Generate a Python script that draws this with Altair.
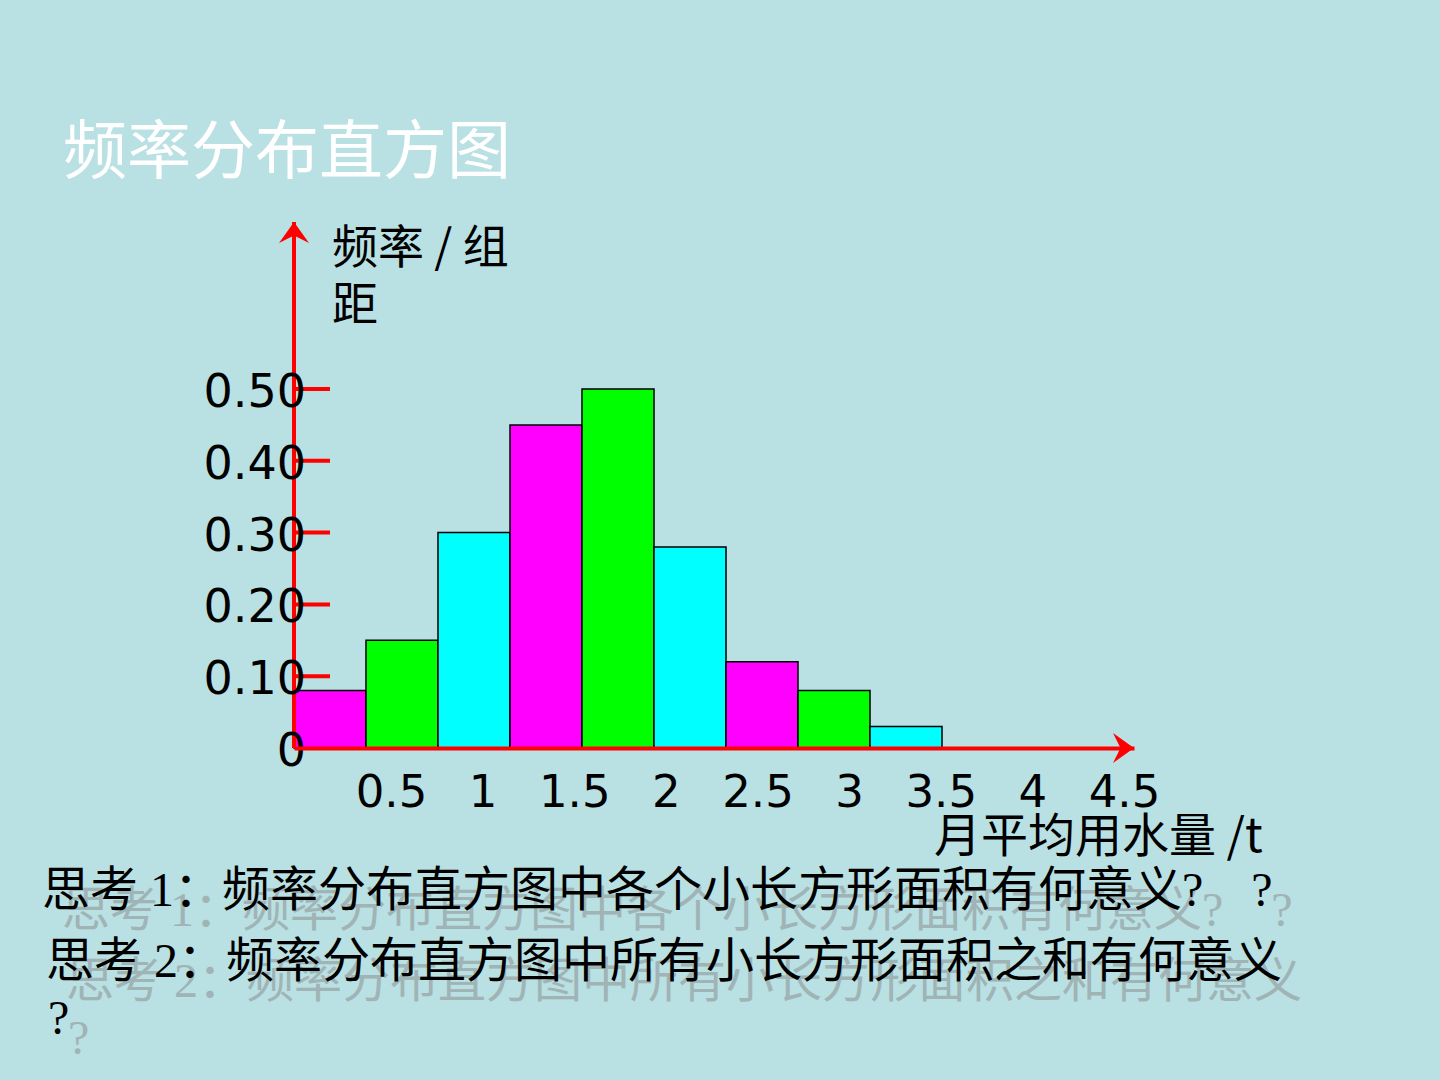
import altair as alt
import pandas as pd

# ---------------- data ----------------
TITLE = "频率分布直方图"
Y_TITLE_LINES = ["频率 / 组", "距"]
X_TITLE = "月平均用水量 /t"
QUESTIONS = [
    "思考 1：频率分布直方图中各个小长方形面积有何意义?\u3000?",
    "思考 2：频率分布直方图中所有小长方形面积之和有何意义",
    "?",
]

BIN_START = [0, 0.5, 1, 1.5, 2, 2.5, 3, 3.5, 4]
BIN_END = [0.5, 1, 1.5, 2, 2.5, 3, 3.5, 4, 4.5]
FREQ_DENSITY = [0.08, 0.15, 0.30, 0.45, 0.50, 0.28, 0.12, 0.08, 0.03]
COLOR_GROUP = ["a", "b", "c", "a", "b", "c", "a", "b", "c"]

X_TICKS = [0.5, 1, 1.5, 2, 2.5, 3, 3.5, 4, 4.5]
Y_TICKS = [0, 0.1, 0.2, 0.3, 0.4, 0.5]
Y_TICK_LABELS = ["0", "0.10", "0.20", "0.30", "0.40", "0.50"]

# ---------------- layout / style ----------------
W, H = 840, 526
X_MAX = 5.8333
Y_MAX = 0.7326
LABEL_DOMAIN = [-0.0293, 4.5546]  # spacing of the printed tick labels
BG = "#b9e0e3"
RED = "#ff0000"
CJK = "Noto Sans CJK SC"
SERIF_CJK = "Liberation Serif, Noto Sans CJK SC"
NUM = "DejaVu Sans"

bars_df = pd.DataFrame({"start": BIN_START, "end": BIN_END,
                        "v": FREQ_DENSITY, "g": COLOR_GROUP})
xs = alt.Scale(domain=[0, X_MAX], nice=False, zero=False)
ys = alt.Scale(domain=[0, Y_MAX], nice=False)

bars = alt.Chart(bars_df).mark_rect(stroke="black", strokeWidth=1.5).encode(
    x=alt.X("start:Q", scale=xs, axis=None),
    x2="end:Q",
    y=alt.Y("v:Q", scale=ys, axis=None),
    y2=alt.datum(0),
    color=alt.Color("g:N", legend=None,
                    scale=alt.Scale(domain=["a", "b", "c"],
                                    range=["#ff00ff", "#00ff00", "#00ffff"])),
)

# vertical red axis line
yline_df = pd.DataFrame({"k": [0]})
yline = alt.Chart(yline_df).mark_rule(color=RED, strokeWidth=4).encode(
    x=alt.value(0), y=alt.value(0), y2=alt.value(H),
)

ticks_df = pd.DataFrame({"t": Y_TICKS[1:]})
yticks = alt.Chart(ticks_df).mark_rule(color=RED, strokeWidth=4).encode(
    y=alt.Y("t:Q", scale=ys, axis=None),
    x=alt.value(0), x2=alt.value(36),
)

ylab_df = pd.DataFrame({"t": Y_TICKS, "lab": Y_TICK_LABELS})
ylabels = alt.Chart(ylab_df).mark_text(
    align="right", baseline="middle", font=NUM, fontSize=46,
    color="black", dy=4).encode(
    y=alt.Y("t:Q", scale=ys, axis=None),
    x=alt.value(12),
    text="lab:N",
)

up_df = pd.DataFrame({"x": [0], "y": [Y_MAX]})
up_arrow = alt.Chart(up_df).mark_point(
    shape="M0,0 L1,1.4 L0,0.9 L-1,1.4 Z", size=900, filled=True,
    color=RED, opacity=1).encode(
    x=alt.X("x:Q", scale=xs, axis=None),
    y=alt.Y("y:Q", scale=ys, axis=None),
)
right_df = pd.DataFrame({"x": [X_MAX], "y": [0]})
right_arrow = alt.Chart(right_df).mark_point(
    shape="M0,0 L-1.4,-1 L-0.9,0 L-1.4,1 Z", size=900, filled=True,
    color=RED, opacity=1).encode(
    x=alt.X("x:Q", scale=xs, axis=None),
    y=alt.Y("y:Q", scale=ys, axis=None),
)

xlab_df = pd.DataFrame({"x": X_TICKS})
xlabels = alt.Chart(xlab_df).mark_point(opacity=0).encode(
    x=alt.X("x:Q", scale=alt.Scale(domain=LABEL_DOMAIN, nice=False, zero=False),
            axis=alt.Axis(values=X_TICKS, title=None, grid=False, ticks=False,
                          tickSize=0, orient="bottom", format="~g",
                          domainColor=RED, domainWidth=4, zindex=1,
                          labelFont=NUM, labelFontSize=45, labelColor="black",
                          labelPadding=22, labelBaseline="top",
                          labelOverlap=False, labelFlush=False)),
)


def text_layer(txt, x, y, size, color="black", font=CJK, opacity=1.0):
    df = pd.DataFrame({"t": [txt]})
    return alt.Chart(df).mark_text(
        align="left", baseline="middle", font=font, fontSize=size,
        color=color, opacity=opacity).encode(
        x=alt.value(x), y=alt.value(y), text="t:N")


texts = [
    text_layer(TITLE, -231, -68, 64, color="white"),
    text_layer(Y_TITLE_LINES[0], 38, 27, 46),
    text_layer(Y_TITLE_LINES[1], 38, 84, 46),
    text_layer(X_TITLE, 640, 616, 47),
]
SHADOW = "#9aa8aa"
q_pos = [(-252, 670), (-248, 741), (-246, 798)]
for (qx, qy), q in zip(q_pos, QUESTIONS):
    texts.append(text_layer(q, qx + 20, qy + 20, 48, color=SHADOW, font=SERIF_CJK, opacity=0.8))
for (qx, qy), q in zip(q_pos, QUESTIONS):
    texts.append(text_layer(q, qx, qy, 48, font=SERIF_CJK))

chart = alt.layer(bars, yline, yticks, ylabels, up_arrow, right_arrow, xlabels,
                  *texts).resolve_scale(
    x="independent"
).properties(
    width=W, height=H,
    padding={"left": 294, "top": 222, "right": 306, "bottom": 332},
    autosize=alt.AutoSizeParams(type="none"),
    background=BG,
).configure_view(stroke=None)

chart.save("out.html", embed_options={"renderer": "svg", "actions": False})
